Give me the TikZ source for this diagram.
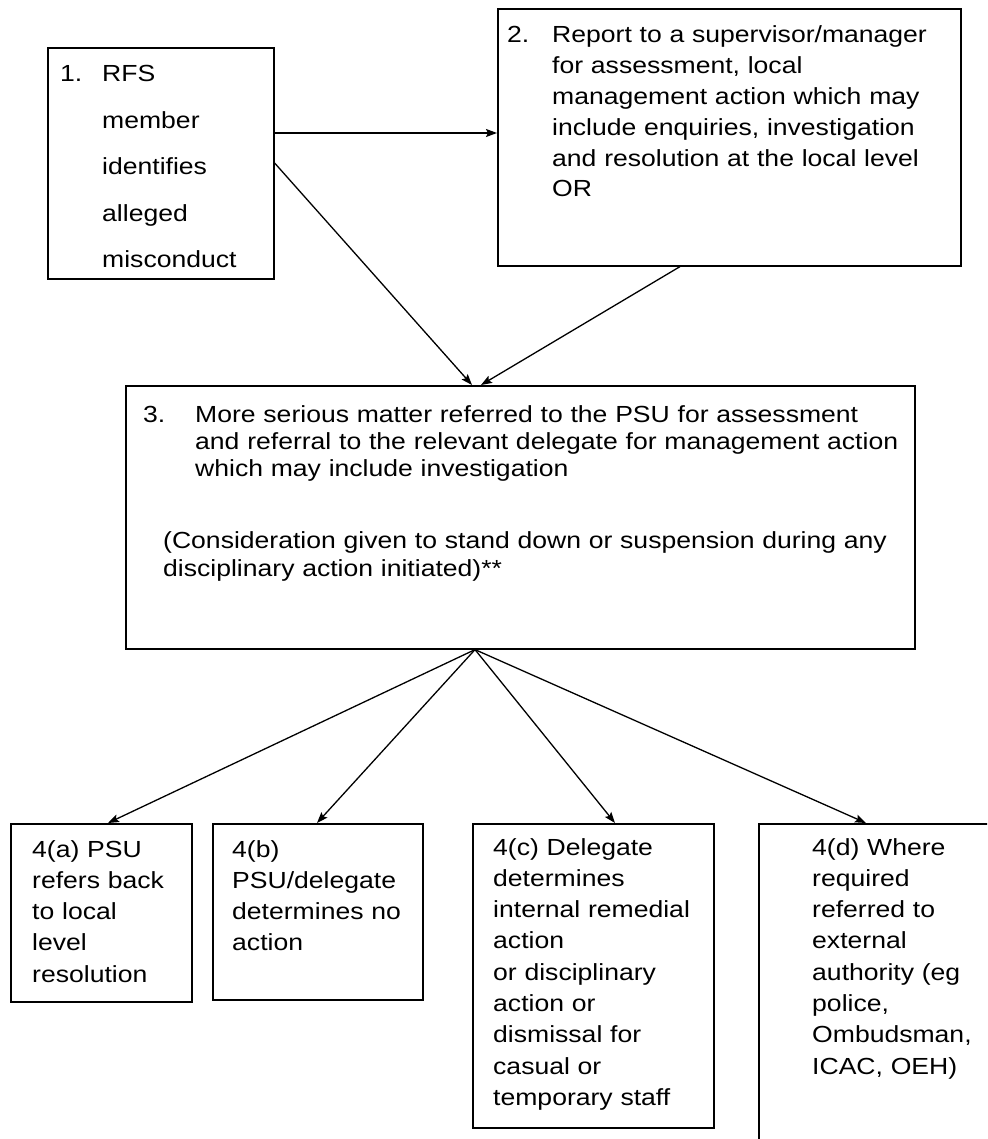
\documentclass[tikz,border=0pt]{standalone}
\usepackage{fontspec}
\setmainfont{Liberation Sans}[FakeStretch=1.14]
\usetikzlibrary{arrows.meta,calc}
\begin{document}
\begin{tikzpicture}[x=1pt,y=-1pt,
  box/.style={draw,line width=1.6pt,rectangle,inner sep=0pt,anchor=north west},
  txt/.style={anchor=base west,inner sep=0pt,align=left,text width=420pt,
    font=\fontsize{23.3}{31.3}\selectfont},
  conn/.style={line width=1.3pt,-{Stealth[length=11pt,width=8pt,inset=2pt]}}]
\fill[white] (0,0) rectangle (987,1139);
\useasboundingbox (0,0) rectangle (987,1139);
\clip (0,0) rectangle (987,1139);

% boxes
\node[box,minimum width=226pt,minimum height=231pt] (b1) at (47,47) {};
\node[box,minimum width=463pt,minimum height=257pt] (b2) at (497,8) {};
\node[box,minimum width=789pt,minimum height=263pt] (b3) at (125,385) {};
\node[box,minimum width=181pt,minimum height=178pt] (b4a) at (10,823) {};
\node[box,minimum width=210pt,minimum height=176pt] (b4b) at (212,823) {};
\node[box,minimum width=241pt,minimum height=304pt] (b4c) at (472,823) {};
\node[box,minimum width=260pt,minimum height=340pt] (b4d) at (758,823) {};

% texts
\node[txt] (n1) at (60,82) {1.};
\node[txt,font=\fontsize{23.3}{46.5}\selectfont] (t1) at (102,82)
  {RFS\\member\\identifies\\alleged\\misconduct};
\node[txt] (n2) at (507,43) {2.};
\node[txt,font=\fontsize{23.3}{30.8}\selectfont] (t2) at (552,43)
  {Report to a supervisor/manager\\for assessment, local\\management action which may\\include enquiries, investigation\\and resolution at the local level\\OR};
\node[txt] (n3) at (143,422) {3.};
\node[txt,text width=720pt,font=\fontsize{23.3}{27.3}\selectfont] (t3) at (195,422)
  {More serious matter referred to the PSU for assessment\\and referral to the relevant delegate for management action\\which may include investigation};
\node[txt,text width=760pt,font=\fontsize{23.3}{28}\selectfont] (t3b) at (163,548)
  {(Consideration given to stand down or suspension during any\\disciplinary action initiated)**};
\node[txt] (t4a) at (32,857) {4(a) PSU\\refers back\\to local\\level\\resolution};
\node[txt] (t4b) at (232,857) {4(b)\\PSU/delegate\\determines no\\action};
\node[txt] (t4c) at (493,855) {4(c) Delegate\\determines\\internal remedial\\action\\or disciplinary\\action or\\dismissal for\\casual or\\temporary staff};
\node[txt] (t4d) at (812,855) {4(d) Where\\required\\referred to\\external\\authority (eg\\police,\\Ombudsman,\\ICAC, OEH)};

% connector points
\coordinate (b1r) at ($(b1.north east)+(0,86)$);
\coordinate (b1d) at ($(b1.north east)+(0,116)$);
\coordinate (b2l) at ($(b2.north west)+(0,125)$);
\coordinate (b2d) at ($(b2.south west)+(183,0)$);
\coordinate (b3ia) at ($(b3.north west)+(347,0)$);
\coordinate (b3ib) at ($(b3.north west)+(356,0)$);
\coordinate (apex) at ($(b3.south west)+(350,0)$);
\coordinate (i4a) at ($(b4a.north west)+(98,0)$);
\coordinate (i4b) at ($(b4b.north west)+(105,0)$);
\coordinate (i4c) at ($(b4c.north west)+(143,0)$);
\coordinate (i4d) at ($(b4d.north west)+(108,0)$);

\draw[conn] (b1r) -- (b2l);
\draw[conn] (b1d) -- (b3ia);
\draw[conn] (b2d) -- (b3ib);
\draw[conn] (apex) -- (i4a);
\draw[conn] (apex) -- (i4b);
\draw[conn] (apex) -- (i4c);
\draw[conn] (apex) -- (i4d);
\end{tikzpicture}
\end{document}
